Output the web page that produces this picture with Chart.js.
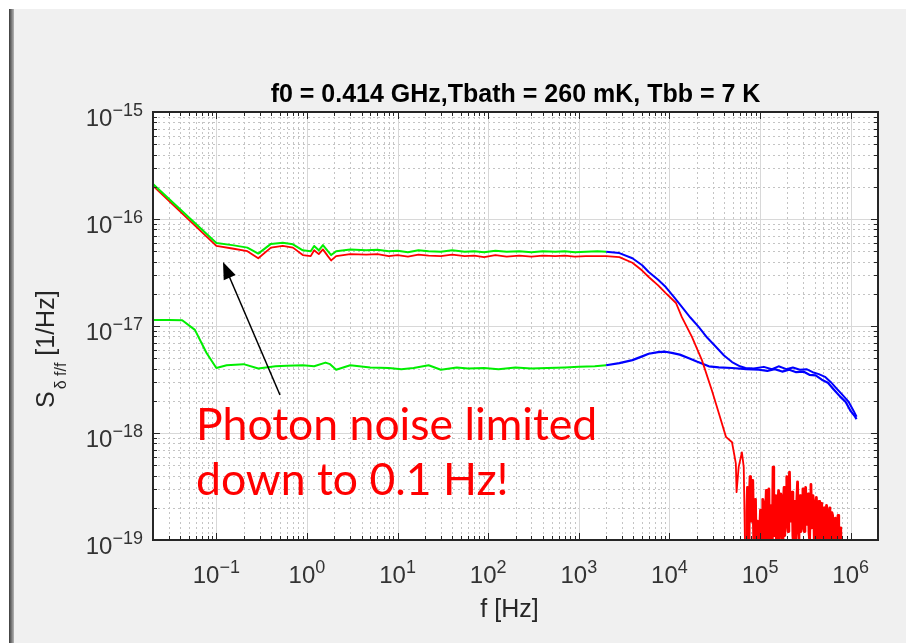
<!DOCTYPE html>
<html>
<head>
<meta charset="utf-8">
<script src="https://cdn.jsdelivr.net/npm/chart.js@4/dist/chart.umd.min.js"></script>
<style>
  html, body { margin: 0; padding: 0; background: #fff; }
  #wrap { width: 906px; height: 643px; }
</style>
</head>
<body>
<div id="wrap"><canvas id="psd" width="906" height="643"></canvas></div>
<script>
// ---- axis ticks ----
const xTickExps = [-1, 0, 1, 2, 3, 4, 5, 6];
const yTickExps = [-19, -18, -17, -16, -15];
const minorMult = [2, 3, 4, 5, 6, 7, 8, 9];

// ---- upper green (dark, low frequency part) ----
const gUpF = [0.02, 0.1, 0.15, 0.22, 0.29, 0.4, 0.54, 0.7, 0.9, 1.1, 1.2, 1.35, 1.5, 1.7, 1.85, 2.1, 3, 4.5, 6, 8, 10, 13, 17, 22, 30, 40, 55, 70, 90, 120, 160, 220, 300, 400, 550, 700, 900, 1200, 1600, 2000];
const gUpS = [2.12e-16, 5.97e-17, 5.7e-17, 5.4e-17, 4.75e-17, 5.85e-17, 6.0e-17, 5.8e-17, 5.1e-17, 5.0e-17, 5.6e-17, 5.1e-17, 5.7e-17, 5.0e-17, 4.6e-17, 5.0e-17, 5.2e-17, 5.1e-17, 5.15e-17, 5.0e-17, 5.05e-17, 4.9e-17, 5.1e-17, 5.0e-17, 4.95e-17, 5.1e-17, 4.95e-17, 5.0e-17, 4.9e-17, 5.05e-17, 4.95e-17, 5.0e-17, 4.9e-17, 5.0e-17, 4.95e-17, 5.0e-17, 4.9e-17, 4.95e-17, 5.0e-17, 4.95e-17];

// ---- lower green ----
const gLoF = [0.02, 0.03, 0.042, 0.058, 0.078, 0.1, 0.13, 0.2, 0.29, 0.45, 0.6, 0.9, 1.2, 1.6, 1.8, 2.1, 3, 5, 8, 11, 15, 22, 30, 45, 60, 90, 130, 200, 300, 450, 700, 1000, 1500, 2000];
const gLoS = [1.14e-17, 1.14e-17, 1.13e-17, 9.2e-18, 5.6e-18, 4.05e-18, 4.3e-18, 4.4e-18, 4.0e-18, 4.2e-18, 4.25e-18, 4.3e-18, 4.2e-18, 4.55e-18, 4.4e-18, 3.9e-18, 4.3e-18, 4.1e-18, 4.05e-18, 3.95e-18, 4.05e-18, 4.3e-18, 3.9e-18, 4.1e-18, 4.0e-18, 4.05e-18, 3.95e-18, 4.1e-18, 4.0e-18, 4.05e-18, 4.1e-18, 4.15e-18, 4.2e-18, 4.3e-18];

// ---- red (illuminated): flat part, roll-off, then noise floor ----
const redF = [0.02, 0.1, 0.15, 0.22, 0.29, 0.4, 0.54, 0.7, 0.9, 1.1, 1.2, 1.35, 1.5, 1.7, 1.85, 2.1, 3, 4.5, 6, 8, 10, 13, 17, 22, 30, 40, 55, 70, 90, 120, 160, 220, 300, 400, 550, 700, 900, 1200, 1600, 2000,
  2800, 3900, 5000, 5900, 7500, 9100, 11800, 13700, 17700, 22800, 29400, 35000, 42000, 49000, 54000, 55000, 58000, 63000, 66000, 68000,
  70000, 71200, 72500, 73700, 75000, 76200, 77500, 78700, 80000, 81500, 83000, 84500, 86000, 87500, 89000, 90500, 92000, 93500, 95000, 96500,
  98000, 99500, 101000, 103000, 105000, 107000, 109000, 111000, 113000, 115000, 117000, 119000, 121000, 123000, 125000, 127000, 129000, 131500, 134000, 136500,
  139000, 141500, 144000, 146500, 149000, 151500, 154000, 157000, 160000, 163000, 166000, 169000, 172000, 175000, 178000, 181000, 184000, 187000, 190000, 193500,
  197000, 200500, 204000, 207500, 211000, 214500, 218000, 222000, 226000, 230000, 234000, 238000, 242000, 246000, 250000, 254500, 259000, 263500, 268000, 272500,
  277000, 282000, 287000, 292000, 297000, 302000, 307000, 312500, 318000, 323500, 329000, 334500, 340000, 346000, 352000, 358000, 364000, 370500, 377000, 383500,
  390000, 397000, 404000, 411000, 418000, 425000, 432000, 439500, 447000, 455000, 463000, 471000, 479000, 487500, 496000, 504500, 513000, 522000, 531000, 540500,
  550000, 559500, 569000, 579000, 589000, 599500, 610000, 620500, 631000, 642000, 653000, 664500, 676000, 688000, 700000, 712500, 725000, 737500, 750000, 763000,
  776000, 788000, 800000];
const redS = [2.04e-16, 5.6e-17, 5.3e-17, 5.0e-17, 4.3e-17, 5.4e-17, 5.6e-17, 5.4e-17, 4.6e-17, 4.5e-17, 5.1e-17, 4.7e-17, 5.2e-17, 4.5e-17, 4.1e-17, 4.5e-17, 4.7e-17, 4.65e-17, 4.7e-17, 4.5e-17, 4.6e-17, 4.45e-17, 4.65e-17, 4.55e-17, 4.5e-17, 4.65e-17, 4.5e-17, 4.55e-17, 4.4e-17, 4.6e-17, 4.45e-17, 4.55e-17, 4.45e-17, 4.55e-17, 4.5e-17, 4.55e-17, 4.45e-17, 4.5e-17, 4.5e-17, 4.5e-17,
  4.4e-17, 3.9e-17, 3.3e-17, 2.87e-17, 2.4e-17, 2.03e-17, 1.64e-17, 1.21e-17, 7.9e-18, 4.8e-18, 2.5e-18, 1.54e-18, 9.2e-19, 8.2e-19, 5.2e-19, 2.8e-19, 4.8e-19, 6.6e-19, 4.8e-19, 1.0e-19,
  2.0e-20, 1.8e-19, 3.1e-19, 1.2e-19, 5e-20, 2.6e-19, 3.9e-19, 2.2e-19, 1.5e-19, 2.9e-19, 3.6e-19, 1.4e-19, 6e-20, 1.7e-19, 2.4e-19, 8e-20, 3e-20, 1.5e-19, 1.2e-19, 4e-20,
  2e-20, 1.4e-19, 1.9e-19, 5e-20, 8e-20, 2.4e-19, 2.2e-19, 9e-20, 4e-20, 1.8e-19, 2.9e-19, 7e-20, 1.3e-19, 2.2e-19, 3.0e-19, 1.1e-19, 5e-20, 1.6e-19, 2.1e-19, 1.0e-19,
  4.8e-19, 1.9e-19, 1.1e-19, 2.0e-19, 2.6e-19, 9e-20, 6e-20, 2.1e-19, 2.9e-19, 1.0e-19, 1.4e-19, 2.7e-19, 2.5e-19, 1.2e-19, 7e-20, 2.3e-19, 3.1e-19, 1.1e-19, 1.6e-19, 2.6e-19,
  3.9e-19, 1.4e-19, 1.2e-19, 2.4e-19, 4.3e-19, 1.7e-19, 1.5e-19, 2.5e-19, 2.8e-19, 1.1e-19, 9e-20, 2.1e-19, 2.3e-19, 1.0e-19, 1.3e-19, 2.4e-19, 3.5e-19, 1.5e-19, 1.0e-19, 2.2e-19,
  2.6e-19, 1.2e-19, 1.6e-19, 2.5e-19, 3.0e-19, 1.3e-19, 1.2e-19, 2.3e-19, 3.1e-19, 1.4e-19, 1.7e-19, 2.4e-19, 2.7e-19, 1.2e-19, 1.0e-19, 2.2e-19, 3.3e-19, 1.3e-19, 1.5e-19, 2.6e-19,
  2.2e-19, 9e-20, 1.1e-19, 2.0e-19, 2.5e-19, 1.2e-19, 7e-20, 1.8e-19, 2.3e-19, 1.0e-19, 1.3e-19, 2.2e-19, 2.1e-19, 1.1e-19, 9e-20, 1.9e-19, 2.0e-19, 8e-20, 1.2e-19, 2.1e-19,
  1.9e-19, 1.0e-19, 6e-20, 1.7e-19, 2.0e-19, 9e-20, 1.0e-19, 1.8e-19, 1.7e-19, 7e-20, 5e-20, 1.5e-19, 1.6e-19, 6e-20, 8e-20, 1.4e-19, 1.7e-19, 7e-20, 4e-20, 1.2e-19,
  1.3e-19, 5e-20, 2e-20];

// ---- upper blue (high frequency part) ----
const bUpF = [2000, 2800, 3900, 5000, 5900, 7500, 9100, 11000, 13700, 17000, 21000, 26000, 32500, 40000, 49000, 60000, 69000, 85000,
  110000, 135000, 160000, 195000, 230000, 275000, 325000, 380000, 445000, 520000, 600000, 700000, 820000, 950000, 1080000, 1160000];
const bUpS = [4.95e-17, 4.8e-17, 4.3e-17, 3.7e-17, 3.2e-17, 2.7e-17, 2.31e-17, 1.9e-17, 1.51e-17, 1.2e-17, 9.8e-18, 7.8e-18, 6.4e-18, 5.3e-18, 4.6e-18, 4.2e-18, 4.05e-18, 4.0e-18,
  4.15e-18, 3.95e-18, 4.2e-18, 3.95e-18, 4.1e-18, 3.9e-18, 3.95e-18, 3.7e-18, 3.55e-18, 3.35e-18, 3.0e-18, 2.6e-18, 2.25e-18, 1.95e-18, 1.6e-18, 1.42e-18];

// ---- lower blue ----
const bLoF = [2000, 2800, 3900, 5000, 5900, 7500, 9000, 10600, 13000, 16400, 20000, 27200, 35000, 49000, 70000, 97000,
  120000, 145000, 175000, 210000, 250000, 300000, 350000, 410000, 480000, 560000, 650000, 760000, 880000, 1000000, 1100000, 1160000];
const bLoS = [4.3e-18, 4.5e-18, 4.8e-18, 5.2e-18, 5.5e-18, 5.7e-18, 5.75e-18, 5.6e-18, 5.4e-18, 5.0e-18, 4.65e-18, 4.2e-18, 4.1e-18, 4.05e-18, 3.95e-18, 3.9e-18,
  3.8e-18, 3.95e-18, 3.75e-18, 3.9e-18, 3.7e-18, 3.75e-18, 3.5e-18, 3.45e-18, 3.15e-18, 2.95e-18, 2.55e-18, 2.2e-18, 1.95e-18, 1.6e-18, 1.45e-18, 1.35e-18];

const toPts = (f, s) => f.map((v, i) => ({ x: v, y: s[i] }));
const lineSet = (data, color, width) => ({
  data, borderColor: color, borderWidth: width, pointRadius: 0,
  tension: 0, fill: false, borderJoinStyle: 'round', clip: 0
});

const tickFont = '"Liberation Sans", Arial, sans-serif';

// "10" with a raised exponent
function drawPower(ctx, exp, x, baseY, mode) {
  const sup = String(exp).replace('-', '\u2212');
  ctx.font = '24px ' + tickFont;
  const wb = ctx.measureText('10').width;
  ctx.font = '18px ' + tickFont;
  const ws = ctx.measureText(sup).width;
  const left = mode === 'center' ? x - (wb + ws) / 2 : x - (wb + ws);
  ctx.font = '24px ' + tickFont;
  ctx.fillText('10', left, baseY);
  ctx.font = '18px ' + tickFont;
  ctx.fillText(sup, left + wb, baseY - 10);
}

const matlabLook = {
  id: 'matlabLook',
  beforeDraw(chart) {
    const { ctx, chartArea: a } = chart;
    const xs = chart.scales.x, ys = chart.scales.y;
    ctx.save();
    ctx.fillStyle = '#ffffff';
    ctx.fillRect(0, 0, chart.width, chart.height);
    ctx.fillStyle = '#f0f0f0';
    ctx.fillRect(9, 9, chart.width - 9, chart.height - 9);
    const g = ctx.createLinearGradient(9, 0, 14, 0);
    g.addColorStop(0, '#3a3a3a');
    g.addColorStop(1, '#b5b5b5');
    ctx.fillStyle = g;
    ctx.fillRect(9, 9, 5, chart.height - 9);
    ctx.fillStyle = '#ffffff';
    ctx.fillRect(a.left, a.top, a.right - a.left, a.bottom - a.top);

    // minor grid (dotted)
    ctx.lineWidth = 1;
    ctx.strokeStyle = '#c4c4c4';
    ctx.setLineDash([2, 3]);
    ctx.beginPath();
    [-2].concat(xTickExps).forEach(e => minorMult.forEach(m => {
      const v = m * Math.pow(10, e);
      if (v <= xs.min || v >= xs.max) return;
      const px = Math.round(xs.getPixelForValue(v)) + 0.5;
      ctx.moveTo(px, a.top); ctx.lineTo(px, a.bottom);
    }));
    yTickExps.forEach(e => minorMult.forEach(m => {
      const v = m * Math.pow(10, e);
      if (v <= ys.min || v >= ys.max) return;
      const py = Math.round(ys.getPixelForValue(v)) + 0.5;
      ctx.moveTo(a.left, py); ctx.lineTo(a.right, py);
    }));
    ctx.stroke();

    // major grid
    ctx.setLineDash([]);
    ctx.strokeStyle = '#d8d8d8';
    ctx.beginPath();
    xTickExps.forEach(e => {
      const px = Math.round(xs.getPixelForValue(Math.pow(10, e))) + 0.5;
      ctx.moveTo(px, a.top); ctx.lineTo(px, a.bottom);
    });
    yTickExps.forEach(e => {
      const py = Math.round(ys.getPixelForValue(Math.pow(10, e))) + 0.5;
      ctx.moveTo(a.left, py); ctx.lineTo(a.right, py);
    });
    ctx.stroke();
    ctx.restore();
  },
  afterDatasetsDraw(chart) {
    const { ctx, chartArea: a } = chart;
    const xs = chart.scales.x, ys = chart.scales.y;
    ctx.save();

    // inward ticks
    ctx.strokeStyle = '#262626';
    ctx.lineWidth = 1;
    ctx.beginPath();
    [-2].concat(xTickExps).forEach(e => [1].concat(minorMult).forEach(m => {
      const v = m * Math.pow(10, e);
      if (v <= xs.min || v >= xs.max) return;
      const len = m === 1 ? 7 : 4;
      const px = Math.round(xs.getPixelForValue(v)) + 0.5;
      ctx.moveTo(px, a.bottom); ctx.lineTo(px, a.bottom - len);
      ctx.moveTo(px, a.top); ctx.lineTo(px, a.top + len);
    }));
    yTickExps.forEach(e => [1].concat(minorMult).forEach(m => {
      const v = m * Math.pow(10, e);
      if (v < ys.min || v > ys.max) return;
      const len = m === 1 ? 7 : 4;
      const py = Math.round(ys.getPixelForValue(v)) + 0.5;
      ctx.moveTo(a.left, py); ctx.lineTo(a.left + len, py);
      ctx.moveTo(a.right, py); ctx.lineTo(a.right - len, py);
    }));
    ctx.stroke();

    // box
    ctx.lineWidth = 2;
    ctx.strokeRect(a.left, a.top, a.right - a.left, a.bottom - a.top);

    // tick labels
    ctx.fillStyle = '#333333';
    ctx.textAlign = 'left';
    ctx.textBaseline = 'alphabetic';
    xTickExps.forEach(e => drawPower(ctx, e, xs.getPixelForValue(Math.pow(10, e)), 583, 'center'));
    yTickExps.forEach(e => drawPower(ctx, e, a.left - 10, ys.getPixelForValue(Math.pow(10, e)) + 14, 'right'));

    // axis titles
    ctx.fillStyle = '#262626';
    ctx.font = '25px ' + tickFont;
    ctx.textAlign = 'center';
    ctx.fillText('f [Hz]', (a.left + a.right) / 2 - 6, 617);

    ctx.save();
    ctx.translate(54, 408);
    ctx.rotate(-Math.PI / 2);
    ctx.textAlign = 'left';
    ctx.font = '25px ' + tickFont;
    ctx.fillText('S', 0, 0);
    let w = ctx.measureText('S').width + 2;
    ctx.font = '16px ' + tickFont;
    ctx.fillText('\u03B4 f/f', w, 12);
    w += ctx.measureText('\u03B4 f/f').width;
    ctx.font = '25px ' + tickFont;
    ctx.fillText(' [1/Hz]', w, 0);
    ctx.restore();

    // annotation
    ctx.fillStyle = '#ff0000';
    ctx.textAlign = 'left';
    ctx.font = '44.5px Lato, "Open Sans", sans-serif';
    ctx.fillText('Photon noise limited', 196, 440);
    ctx.fillText('down to 0.1 Hz!', 196, 495);

    // arrow
    const x0 = 280, y0 = 395, x1 = 223, y1 = 262;
    const ang = Math.atan2(y1 - y0, x1 - x0);
    ctx.strokeStyle = '#000000';
    ctx.fillStyle = '#000000';
    ctx.lineWidth = 1.5;
    ctx.beginPath();
    ctx.moveTo(x0, y0);
    ctx.lineTo(x1 - 12 * Math.cos(ang), y1 - 12 * Math.sin(ang));
    ctx.stroke();
    ctx.beginPath();
    ctx.moveTo(x1, y1);
    ctx.lineTo(x1 - 17 * Math.cos(ang) + 6.5 * Math.sin(ang), y1 - 17 * Math.sin(ang) - 6.5 * Math.cos(ang));
    ctx.lineTo(x1 - 17 * Math.cos(ang) - 6.5 * Math.sin(ang), y1 - 17 * Math.sin(ang) + 6.5 * Math.cos(ang));
    ctx.closePath();
    ctx.fill();
    ctx.restore();
  }
};

const redSet = lineSet(toPts(redF, redS), '#ff0000', 1.8);
// denser strokes in the noise floor
redSet.segment = { borderWidth: c => (c.p0.parsed.x >= 70000 ? 2.8 : undefined) };

const ctx = document.getElementById('psd').getContext('2d');
new Chart(ctx, {
  type: 'line',
  data: {
    datasets: [
      lineSet(toPts(gUpF, gUpS), '#00ee00', 2),
      lineSet(toPts(gLoF, gLoS), '#00ee00', 2),
      redSet,
      lineSet(toPts(bUpF, bUpS), '#0000ff', 2),
      lineSet(toPts(bLoF, bLoS), '#0000ff', 2.2)
    ]
  },
  options: {
    responsive: false,
    animation: false,
    devicePixelRatio: 1,
    layout: { padding: { left: 0, right: 28, top: 0, bottom: 0 } },
    plugins: {
      legend: { display: false },
      tooltip: { enabled: false },
      title: {
        display: true,
        fullSize: false,
        text: 'f0 = 0.414 GHz,Tbath = 260 mK, Tbb = 7 K',
        color: '#000000',
        font: { family: 'Liberation Sans', size: 25, weight: 'bold', lineHeight: 1.2 },
        padding: { top: 80, bottom: 2 }
      }
    },
    scales: {
      x: {
        type: 'logarithmic', min: 0.02, max: 2e6,
        ticks: { display: false }, grid: { display: false }, border: { display: false },
        afterFit: s => { s.height = 103; }
      },
      y: {
        type: 'logarithmic', min: 1e-19, max: 1e-15,
        ticks: { display: false }, grid: { display: false }, border: { display: false },
        afterFit: s => { s.width = 153; }
      }
    }
  },
  plugins: [matlabLook]
});
</script>
</body>
</html>
